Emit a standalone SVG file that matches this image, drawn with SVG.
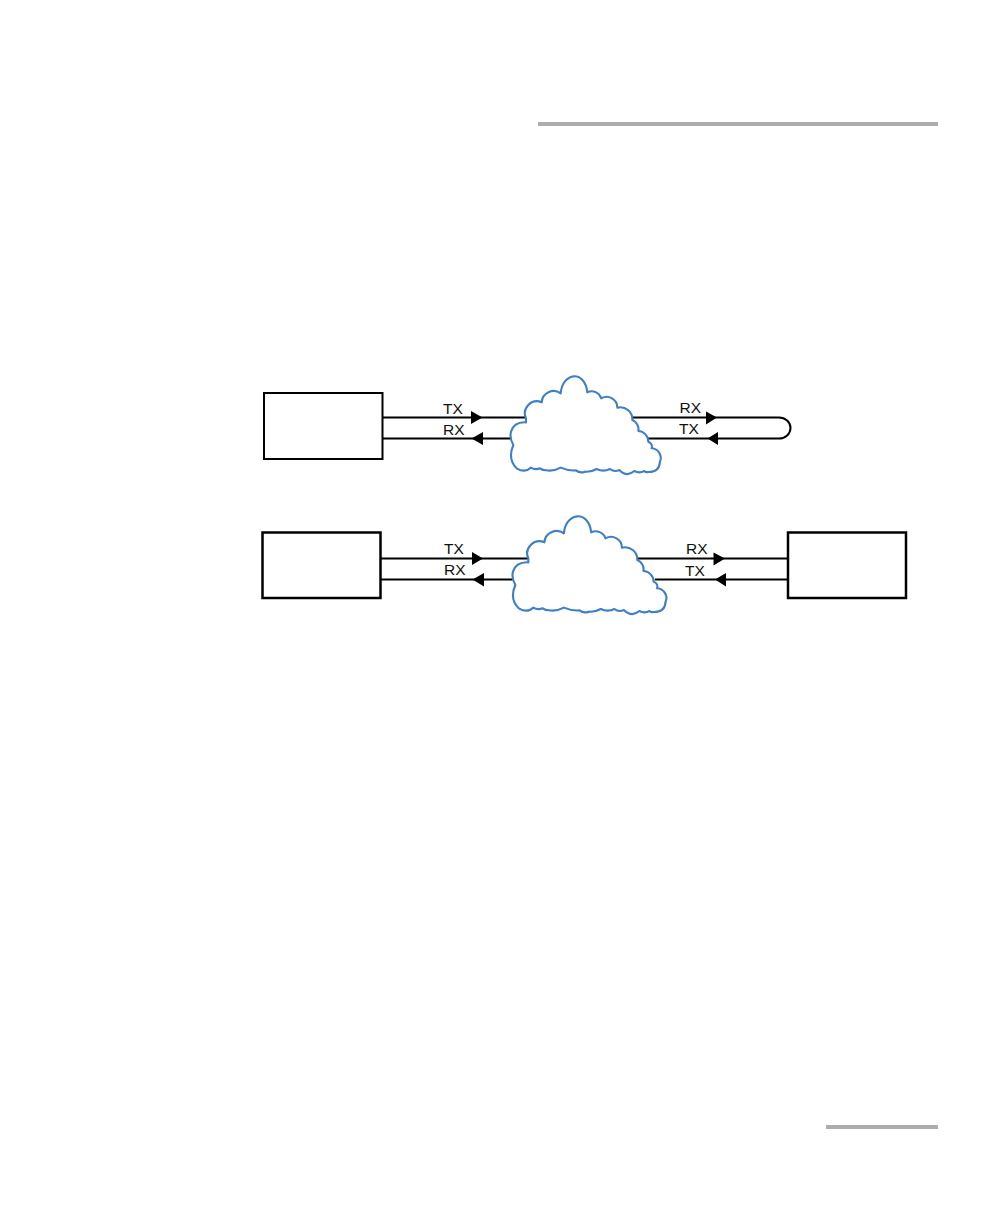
<svg xmlns="http://www.w3.org/2000/svg" width="1008" height="1224" viewBox="0 0 1008 1224">
<style>
.box{fill:#fff;stroke:#000;stroke-width:2}
.ln{fill:none;stroke:#000;stroke-width:2}
.ah{fill:#000}
.cl{fill:#fff;stroke:#3f7fc6;stroke-width:6.3;stroke-linejoin:round}
text{font-family:"Liberation Sans",Arial,sans-serif;font-size:15.5px;fill:#111}
</style>
<defs>
<path id="cloud" d="M78,160 A36,36 0 0 1 125,112 A36,36 0 0 1 182,85 C188,20 255,15 262,82 A30,30 0 0 1 304,100 A32,32 0 0 1 352,128 A36,36 0 0 1 397,165 A30,30 0 0 1 415,198 A32,32 0 0 1 445,230 A16,16 0 0 1 455,250 A29,29 0 0 1 480,290 Q478,322 445,321 Q438,323 433,318 Q418,326 403,318 Q380,338 358,315 Q343,322 330,312 Q310,322 290,312 Q272,322 255,320 Q240,326 228,316 Q205,318 182,308 Q160,320 138,316 Q128,316 120,310 Q106,316 92,308 Q75,325 50,310 Q22,282 40,240 Q28,220 33,200 Q42,170 78,172 Z"/>
</defs>
<rect x="538" y="122" width="400" height="4" fill="#adadad"/>
<rect x="826" y="1125" width="112" height="4" fill="#adadad"/>
<g id="connectors">
<path class="ln" d="M382,417.500H527M382,438.500H512M632,417.500H779A11.500,10.500 0 0 1 779,438.500H648"/>
<path class="ln" d="M380,558.500H529M380,579.500H513M637,558.500H788M655,579.500H788"/>
<path class="ah" d="M471,411L482.500,417.500L471,424ZM483,432L471.500,438.500L483,445ZM706,411.500L717,417.500L706,424.500ZM718,432L707.500,438.500L718,445ZM472,552L483,558.500L472,565ZM484,573L472.500,579.500L484,586.500ZM713.500,552.500L725,558.500L713.500,565.500ZM726,573L715,579.500L726,586.500Z"/>
<text x="443" y="413.500">TX</text><text x="443" y="434.500">RX</text>
<text x="679.500" y="412.500">RX</text><text x="679" y="434">TX</text>
<text x="444" y="554">TX</text><text x="444" y="575">RX</text>
<text x="686" y="554">RX</text><text x="685" y="575.500">TX</text>
</g>
<g id="node-a"><rect class="box" x="264" y="393" width="118.500" height="66"/></g>
<g id="node-b"><rect class="box" x="262.500" y="532.500" width="118" height="65.500" style="stroke-width:2.500"/></g>
<g id="node-c"><rect class="box" x="788" y="532.500" width="118" height="65.500" style="stroke-width:2.500"/></g>
<g id="cloud-1"><use href="#cloud" class="cl" transform="translate(500,365) scale(.3333)"/></g>
<g id="cloud-2"><use href="#cloud" class="cl" transform="translate(501.700,505) scale(.3415,.3333)"/></g>
</svg>
